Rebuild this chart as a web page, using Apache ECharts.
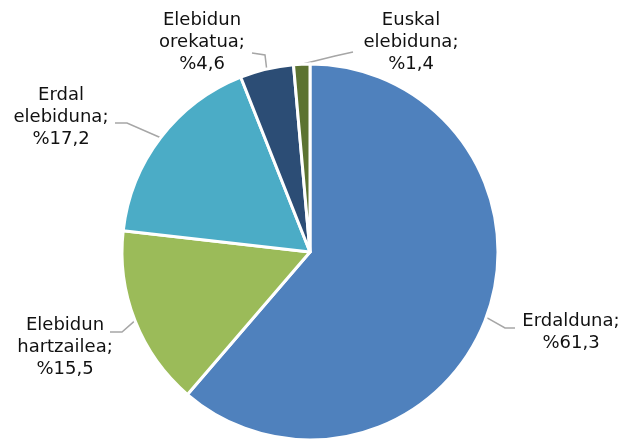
<!DOCTYPE html>
<html><head><meta charset="utf-8">
<script src="https://cdn.jsdelivr.net/npm/echarts@6/dist/echarts.min.js"></script>
<style>html,body{margin:0;padding:0;background:#fff}#c{width:638px;height:439px}</style>
</head><body><div id="c"></div>
<script>
const categories = ['Erdalduna', 'Elebidun\nhartzailea', 'Erdal\nelebiduna', 'Elebidun\norekatua', 'Euskal\nelebiduna'];
const values = [61.3, 15.5, 17.2, 4.6, 1.4];
const colors = ['#4F81BD', '#9BBB59', '#4BACC6', '#2C4D75', '#5C7331'];

// label placement (text centre) and guide-line bends, per slice
const labelCentres = [[571, 332], [65, 347], [61, 117], [202, 42], [411, 42]];
const labelBends = [
  [[505, 328], [515, 328]],
  [[122, 332], [110, 332]],
  [[127, 123], [115, 123]],
  [[265, 55], [252, 53]],
  [[335, 56], [353, 52]]
];

const FONT = '"DejaVu Sans", Verdana, sans-serif';
const chart = echarts.init(document.getElementById('c'));
const data = categories.map((n, i) => ({ name: n, value: values[i], itemStyle: { color: colors[i] } }));
chart.setOption({
  animation: false,
  series: [{
    type: 'pie',
    center: [310, 252],
    radius: [0, 188],
    startAngle: 90,
    clockwise: true,
    avoidLabelOverlap: false,
    itemStyle: { borderColor: '#fff', borderWidth: 3 },
    label: {
      show: true,
      position: 'outside',
      fontFamily: FONT,
      fontSize: 18,
      color: '#111',
      formatter: p => {
        const lines = (p.name + ';').split('\n');
        lines.push('%' + String(p.value).replace('.', ','));
        return lines.map(l => '{t|' + l + '}').join('\n');
      },
      rich: { t: { width: 130, align: 'center', fontFamily: FONT, fontSize: 18, color: '#111', lineHeight: 22 } }
    },
    labelLine: { show: true, length: 12, length2: 18, lineStyle: { color: '#A6A6A6', width: 1.5 } },
    labelLayout: params => {
      const i = params.dataIndex;
      const start = params.labelLinePoints ? params.labelLinePoints[0] : null;
      const out = {
        x: labelCentres[i][0],
        y: labelCentres[i][1],
        align: 'center',
        verticalAlign: 'middle',
        hideOverlap: false
      };
      if (start) out.labelLinePoints = [start, labelBends[i][0], labelBends[i][1]];
      return out;
    },
    data: data
  }]
});
</script></body></html>
